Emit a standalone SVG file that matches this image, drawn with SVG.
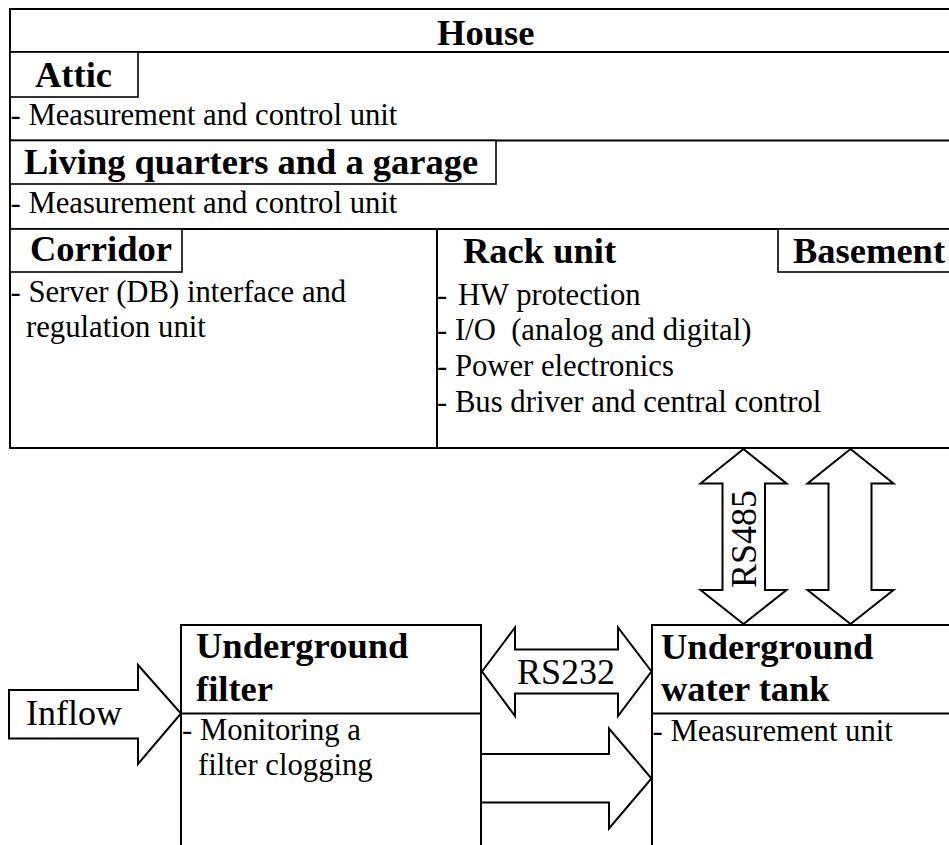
<svg xmlns="http://www.w3.org/2000/svg" width="949" height="845" viewBox="0 0 949 845">
  <style>
    .box { fill: #ffffff; stroke: #000000; stroke-width: 2; }
    .tab { fill: #ffffff; stroke: #000000; stroke-width: 1.6; }
    .rule { stroke: #000000; stroke-width: 2; fill: none; }
    .arrow { fill: #ffffff; stroke: #000000; stroke-width: 2; stroke-linejoin: miter; }
    .title { font-family: "Liberation Serif", "Times New Roman", serif; font-weight: bold; font-size: 36.5px; fill: #000000; }
    .body { font-family: "Liberation Serif", "Times New Roman", serif; font-size: 30.7px; fill: #000000; }
    .label { font-family: "Liberation Serif", "Times New Roman", serif; font-size: 36px; fill: #000000; }
  </style>

  <!-- House outline with its floors -->
  <g id="house">
    <rect class="box" x="10" y="9" width="960" height="439"/>
    <line class="rule" x1="10" y1="52" x2="970" y2="52"/>
    <text class="title" x="437" y="45">House</text>
  </g>

  <g id="attic">
    <rect class="tab" x="10" y="52" width="128" height="45"/>
    <text class="title" x="35" y="87">Attic</text>
    <text class="body" x="10.5" y="125">- Measurement and control unit</text>
  </g>

  <g id="living">
    <line class="rule" x1="10" y1="140.5" x2="970" y2="140.5"/>
    <rect class="tab" x="10" y="140.5" width="486" height="43.5"/>
    <text class="title" x="24" y="174">Living quarters and a garage</text>
    <text class="body" x="10.5" y="213">- Measurement and control unit</text>
  </g>

  <g id="corridor">
    <line class="rule" x1="10" y1="229" x2="970" y2="229"/>
    <rect class="tab" x="10" y="229" width="172" height="43"/>
    <text class="title" x="30" y="261">Corridor</text>
    <text class="body" x="10.5" y="302">- Server (DB) interface and</text>
    <text class="body" x="26" y="337">regulation unit</text>
  </g>

  <g id="rack">
    <line class="rule" x1="437" y1="229" x2="437" y2="448"/>
    <text class="title" x="463" y="263">Rack unit</text>
    <text class="body" x="437" y="305">- <tspan dx="3">HW protection</tspan></text>
    <text class="body" x="437" y="340" xml:space="preserve">- I/O  (analog and digital)</text>
    <text class="body" x="437" y="376">- Power electronics</text>
    <text class="body" x="437" y="412">- Bus driver and central control</text>
  </g>

  <g id="basement">
    <rect class="tab" x="778" y="229" width="190" height="43"/>
    <text class="title" x="793" y="263">Basement</text>
  </g>

  <!-- Underground parts -->
  <g id="filter">
    <rect class="box" x="181" y="625" width="300" height="230"/>
    <line class="rule" x1="181" y1="713.5" x2="481" y2="713.5"/>
    <text class="title" x="196" y="658">Underground</text>
    <text class="title" x="196" y="701">filter</text>
    <text class="body" x="182" y="740">- Monitoring a</text>
    <text class="body" x="198" y="775">filter clogging</text>
  </g>

  <g id="tank">
    <rect class="box" x="652" y="625" width="320" height="230"/>
    <line class="rule" x1="652" y1="713.5" x2="972" y2="713.5"/>
    <text class="title" x="661" y="659">Underground</text>
    <text class="title" x="661" y="701">water tank</text>
    <text class="body" x="652.5" y="741">- Measurement unit</text>
  </g>

  <!-- Block arrows between the parts -->
  <g id="connectors">
    <g id="inflow">
      <polygon class="arrow" points="9,690 138,690 138,665 181,713.5 138,764 138,738.5 9,738.5"/>
      <text class="label" x="26" y="725">Inflow</text>
    </g>
    <g id="rs232">
      <polygon class="arrow" points="482,671.5 515,627.5 515,649.5 618,649.5 618,627.5 651.5,671.5 618,716 618,693.5 515,693.5 515,716"/>
      <text class="label" x="517" y="684">RS232</text>
    </g>
    <g id="water-flow">
      <polygon class="arrow" points="481,754 609,754 609,728.5 651.5,778.5 609,828.5 609,802.5 481,802.5"/>
    </g>
    <g id="rs485">
      <polygon class="arrow" points="743.5,449 786.5,483.5 765,483.5 765,590 786.5,590 743.5,624 700.5,590 722.5,590 722.5,483.5 700.5,483.5"/>
      <text class="label" transform="translate(756,539) rotate(-90)" text-anchor="middle">RS485</text>
    </g>
    <g id="power-link">
      <polygon class="arrow" points="850.5,449 893.5,483.5 871.5,483.5 871.5,590 893.5,590 850.5,624 807.5,590 828.5,590 828.5,483.5 807.5,483.5"/>
    </g>
  </g>
</svg>
